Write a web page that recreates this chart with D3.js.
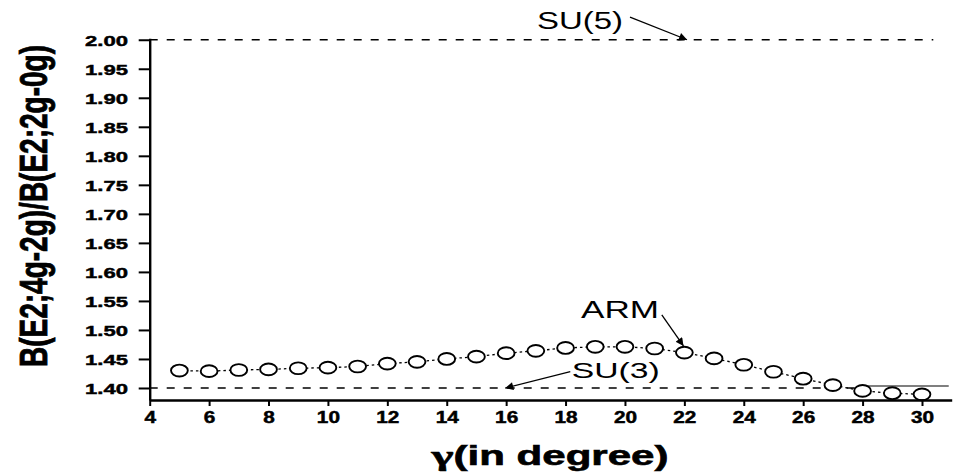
<!DOCTYPE html>
<html>
<head>
<meta charset="utf-8">
<script src="https://cdn.jsdelivr.net/npm/d3@7"></script>
<style>
  html, body { margin: 0; padding: 0; background: #fff; }
  svg { display: block; }
  text { font-family: "Liberation Sans", Arial, sans-serif; fill: #000; }
</style>
</head>
<body>
<svg id="chart" width="954" height="472"></svg>
<script>
// ---- data ----
const gamma = [5,6,7,8,9,10,11,12,13,14,15,16,17,18,19,20,21,22,23,24,25,26,27,28,29,30];
const ratioARM = [1.430,1.429,1.431,1.432,1.434,1.435,1.437,1.442,1.445,1.450,1.454,1.460,1.464,1.469,1.471,1.471,1.468,1.461,1.451,1.440,1.428,1.416,1.405,1.395,1.391,1.389];
const su5Value = 2.00;
const su5Range = [4, 30.38];
const su3Value = 1.40;
const su3Range = [4, 27.9];
const su3TailRange = [27.9, 30.9];
const su3TailValue = 1.4035;
const xMajorTicks = [4,6,8,10,12,14,16,18,20,22,24,26,28,30];
const xMinorTicks = [5,7,9,11,13,15,17,19,21,23,25,27,29,31];
const yMajorTicks = [1.40,1.45,1.50,1.55,1.60,1.65,1.70,1.75,1.80,1.85,1.90,1.95,2.00];
const yMinorTicks = [1.425,1.475,1.525,1.575,1.625,1.675,1.725,1.775,1.825,1.875,1.925,1.975];
const annotLabels = ["SU(5)", "ARM", "SU(3)"];
const annotTextPos = [[17.04, 2.019], [18.52, 1.5202], [18.21, 1.4167]];
const annotArrowFrom = [[20.17, 2.039], [21.24, 1.5259], [18.16, 1.4281]];
const annotArrowTo = [[22.09, 2.000], [21.97, 1.4725], [15.97, 1.3998]];
const xTitleSymbol = "γ";
const xTitleRest = "(in degree)";
const yTitle = "B(E2;4g-2g)/B(E2;2g-0g)";

// ---- layout ----
const svg = d3.select("#chart");
const x = d3.scaleLinear().domain([4, 31]).range([149.7, 951.7]);
const y = d3.scaleLinear().domain([1.3793, 2.0025]).range([400, 38.3]);

svg.append("defs").append("marker")
  .attr("id", "arrow").attr("markerUnits", "userSpaceOnUse")
  .attr("viewBox", "0 0 10 10").attr("refX", 10).attr("refY", 5)
  .attr("markerWidth", 11).attr("markerHeight", 8).attr("orient", "auto")
  .append("path").attr("d", "M0,0 L10,5 L0,10 Z").attr("fill", "#000");

// reference lines
svg.append("line")
  .attr("x1", x(su5Range[0])).attr("x2", x(su5Range[1]))
  .attr("y1", y(su5Value)).attr("y2", y(su5Value))
  .attr("stroke", "#000").attr("stroke-width", 1.5).attr("stroke-dasharray", "8,9");
svg.append("line")
  .attr("x1", x(su3Range[0])).attr("x2", x(su3Range[1]))
  .attr("y1", y(su3Value)).attr("y2", y(su3Value))
  .attr("stroke", "#000").attr("stroke-width", 1.5).attr("stroke-dasharray", "8,9");
svg.append("line")
  .attr("x1", x(su3TailRange[0])).attr("x2", x(su3TailRange[1]))
  .attr("y1", y(su3TailValue)).attr("y2", y(su3TailValue))
  .attr("stroke", "#000").attr("stroke-width", 1.1);

// ARM series
const pts = gamma.map((g, i) => [g, ratioARM[i]]);
svg.append("path")
  .attr("d", d3.line().x(d => x(d[0])).y(d => y(d[1]))(pts))
  .attr("fill", "none").attr("stroke", "#000").attr("stroke-width", 1.3)
  .attr("stroke-dasharray", "2.5,3");
svg.selectAll("ellipse.pt").data(pts).join("ellipse")
  .attr("class", "pt")
  .attr("cx", d => x(d[0])).attr("cy", d => y(d[1]))
  .attr("rx", 8.4).attr("ry", 5.9)
  .attr("fill", "#fff").attr("stroke", "#000").attr("stroke-width", 1.9);

// axes
const gx = svg.append("g").attr("transform", "translate(0,400)");
gx.call(d3.axisBottom(x).tickValues(xMinorTicks).tickSize(3.5).tickSizeOuter(0).tickFormat(""));
gx.call(d3.axisBottom(x).tickValues(xMajorTicks).tickSize(6).tickSizeOuter(0));
gx.selectAll("path.domain").attr("stroke-width", 2.4);
gx.selectAll("line").attr("stroke-width", 2);
gx.selectAll("text")
  .attr("y", 0).attr("dy", 0)
  .attr("transform", "translate(0,23.3) scale(1.3,1)")
  .style("font-size", "16px").style("font-weight", "bold")
  .style("stroke", "#000").style("stroke-width", "0.45px")
  .style("font-family", "'Liberation Sans', Arial, sans-serif");

const gy = svg.append("g").attr("transform", "translate(149.7,0)");
gy.call(d3.axisLeft(y).tickValues(yMinorTicks).tickSize(6).tickSizeOuter(0).tickFormat(""));
gy.call(d3.axisLeft(y).tickValues(yMajorTicks).tickSize(11).tickSizeOuter(0).tickFormat(d3.format(".2f")));
gy.selectAll("path.domain").attr("stroke-width", 2.4);
gy.selectAll("line").attr("stroke-width", 2);
gy.selectAll("text")
  .attr("x", 0).attr("dy", "0.36em")
  .attr("transform", "translate(-21.7,0) scale(1.47,1)")
  .style("font-size", "15px").style("font-weight", "bold")
  .style("stroke", "#000").style("stroke-width", "0.45px")
  .style("font-family", "'Liberation Sans', Arial, sans-serif");

// annotations
const annotWidths = [86, 78, 88];
const annotSizes = [23, 23, 22];
annotLabels.forEach((lab, i) => {
  svg.append("text")
    .attr("x", x(annotTextPos[i][0])).attr("y", y(annotTextPos[i][1]))
    .attr("textLength", annotWidths[i]).attr("lengthAdjust", "spacingAndGlyphs")
    .style("font-size", annotSizes[i] + "px")
    .text(lab);
  svg.append("line")
    .attr("x1", x(annotArrowFrom[i][0])).attr("y1", y(annotArrowFrom[i][1]))
    .attr("x2", x(annotArrowTo[i][0])).attr("y2", y(annotArrowTo[i][1]))
    .attr("stroke", "#000").attr("stroke-width", 1.3)
    .attr("marker-end", "url(#arrow)");
});

// titles
const xt = svg.append("text")
  .attr("x", 431.5).attr("y", 465)
  .style("font-size", "27px").style("font-weight", "bold")
  .style("stroke", "#000").style("stroke-width", "0.6px");
xt.append("tspan")
  .attr("textLength", 22).attr("lengthAdjust", "spacingAndGlyphs")
  .style("font-family", "'Liberation Serif', 'Times New Roman', serif")
  .text(xTitleSymbol);
xt.append("tspan")
  .attr("textLength", 215).attr("lengthAdjust", "spacingAndGlyphs")
  .text(xTitleRest);
svg.append("text")
  .attr("transform", "translate(47,206) rotate(-90) scale(1,1.4)")
  .attr("text-anchor", "middle")
  .attr("textLength", 322).attr("lengthAdjust", "spacingAndGlyphs")
  .style("font-size", "28px").style("font-weight", "bold")
  .style("stroke", "#000").style("stroke-width", "0.6px")
  .text(yTitle);
</script>
</body>
</html>
